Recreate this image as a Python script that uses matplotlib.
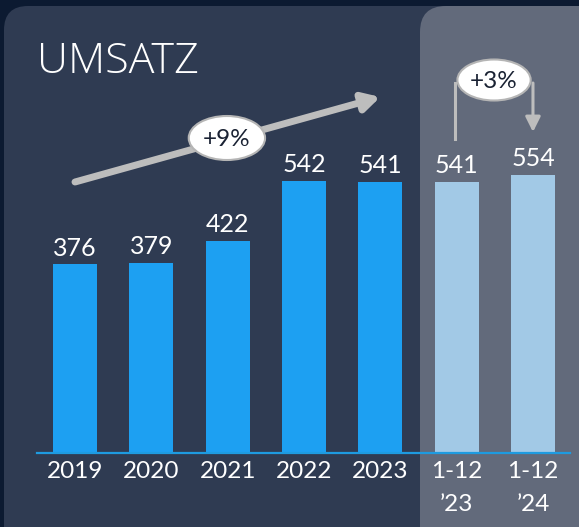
import numpy as np
import matplotlib
matplotlib.use("Agg")
import matplotlib.pyplot as plt
from matplotlib.patches import FancyBboxPatch, Ellipse

# data
categories = ["2019", "2020", "2021", "2022", "2023", "1-12\n\u201923", "1-12\n\u201924"]
values = [376, 379, 422, 542, 541, 541, 554]
is_period = [False, False, False, False, False, True, True]
growth_long = "+9%"
growth_period = "+3%"

plt.rcParams['font.family'] = ['Lato', 'DejaVu Sans']

W, H = 579, 527
fig = plt.figure(figsize=(W / 100, H / 100), dpi=100)
fig.patch.set_facecolor("#0c1a31")

# background panels in pixel space
bg = fig.add_axes([0, 0, 1, 1])
bg.set_xlim(0, W)
bg.set_ylim(H, 0)
bg.axis("off")
bg.add_patch(FancyBboxPatch((4, 6), 640, 560, boxstyle="round,pad=0,rounding_size=24",
                            fc="#2f3b52", ec="none"))
bg.add_patch(FancyBboxPatch((420, 6), 240, 560, boxstyle="round,pad=0,rounding_size=26",
                            fc="#626a7b", ec="none"))

# main data axes
ax = fig.add_axes([0, 0, 1, 1])
ax.patch.set_alpha(0)
x = np.arange(len(values))
ax.set_xlim(-0.9826, 6.603)
ax.set_ylim(-150, 904)
colors = ["#a2c9e6" if p else "#1da0f2" for p in is_period]
ax.bar(x, values, width=0.575, color=colors, zorder=2)
ax.axhline(-2, xmin=0.064, xmax=0.985, color="#1e9be0", lw=1.6, zorder=3)

for xi, v in zip(x, values):
    ax.text(xi, v + 17, str(v), ha="center", va="baseline", color="white", fontsize=18)

for xi, lab in zip(x, categories):
    ax.text(xi, -19, lab, ha="center", va="top", color="white", fontsize=17.5,
            linespacing=1.65)

for s in ax.spines.values():
    s.set_visible(False)
ax.set_xticks([])
ax.set_yticks([])

# title
fig.text(37 / W, 1 - 62 / H, "UMSATZ", color="white", fontsize=31,
         family=["Open Sans", "DejaVu Sans"], fontweight="light",
         va="center", ha="left")

# long-term growth arrow
arrow_col = "#bdbdbd"
ax.annotate("", xy=(4.0, 710), xytext=(0.0, 540),
            arrowprops=dict(arrowstyle="-|>,head_length=1.0,head_width=0.55",
                            color=arrow_col, lw=5, shrinkA=0, shrinkB=0), zorder=4)
ax.add_patch(Ellipse((1.99, 628), 1.0, 88, fc="white", ec="#b5b5b5", lw=1.5, zorder=5))
ax.text(1.99, 626, growth_long, ha="center", va="center", fontsize=17.5, color="#1a2233", zorder=6)

# period comparison bracket
ax.plot([4.98, 4.98], [626, 738], color=arrow_col, lw=2.2, zorder=4)
ax.annotate("", xy=(6.0, 640), xytext=(6.0, 738),
            arrowprops=dict(arrowstyle="-|>,head_length=0.9,head_width=0.45",
                            color=arrow_col, lw=2.2, shrinkA=0, shrinkB=0), zorder=4)
ax.add_patch(Ellipse((5.49, 744), 0.96, 82, fc="white", ec="#b5b5b5", lw=1.5, zorder=5))
ax.text(5.49, 742, growth_period, ha="center", va="center", fontsize=17.5, color="#1a2233", zorder=6)

fig.savefig("out.png", dpi=100, facecolor=fig.get_facecolor())
